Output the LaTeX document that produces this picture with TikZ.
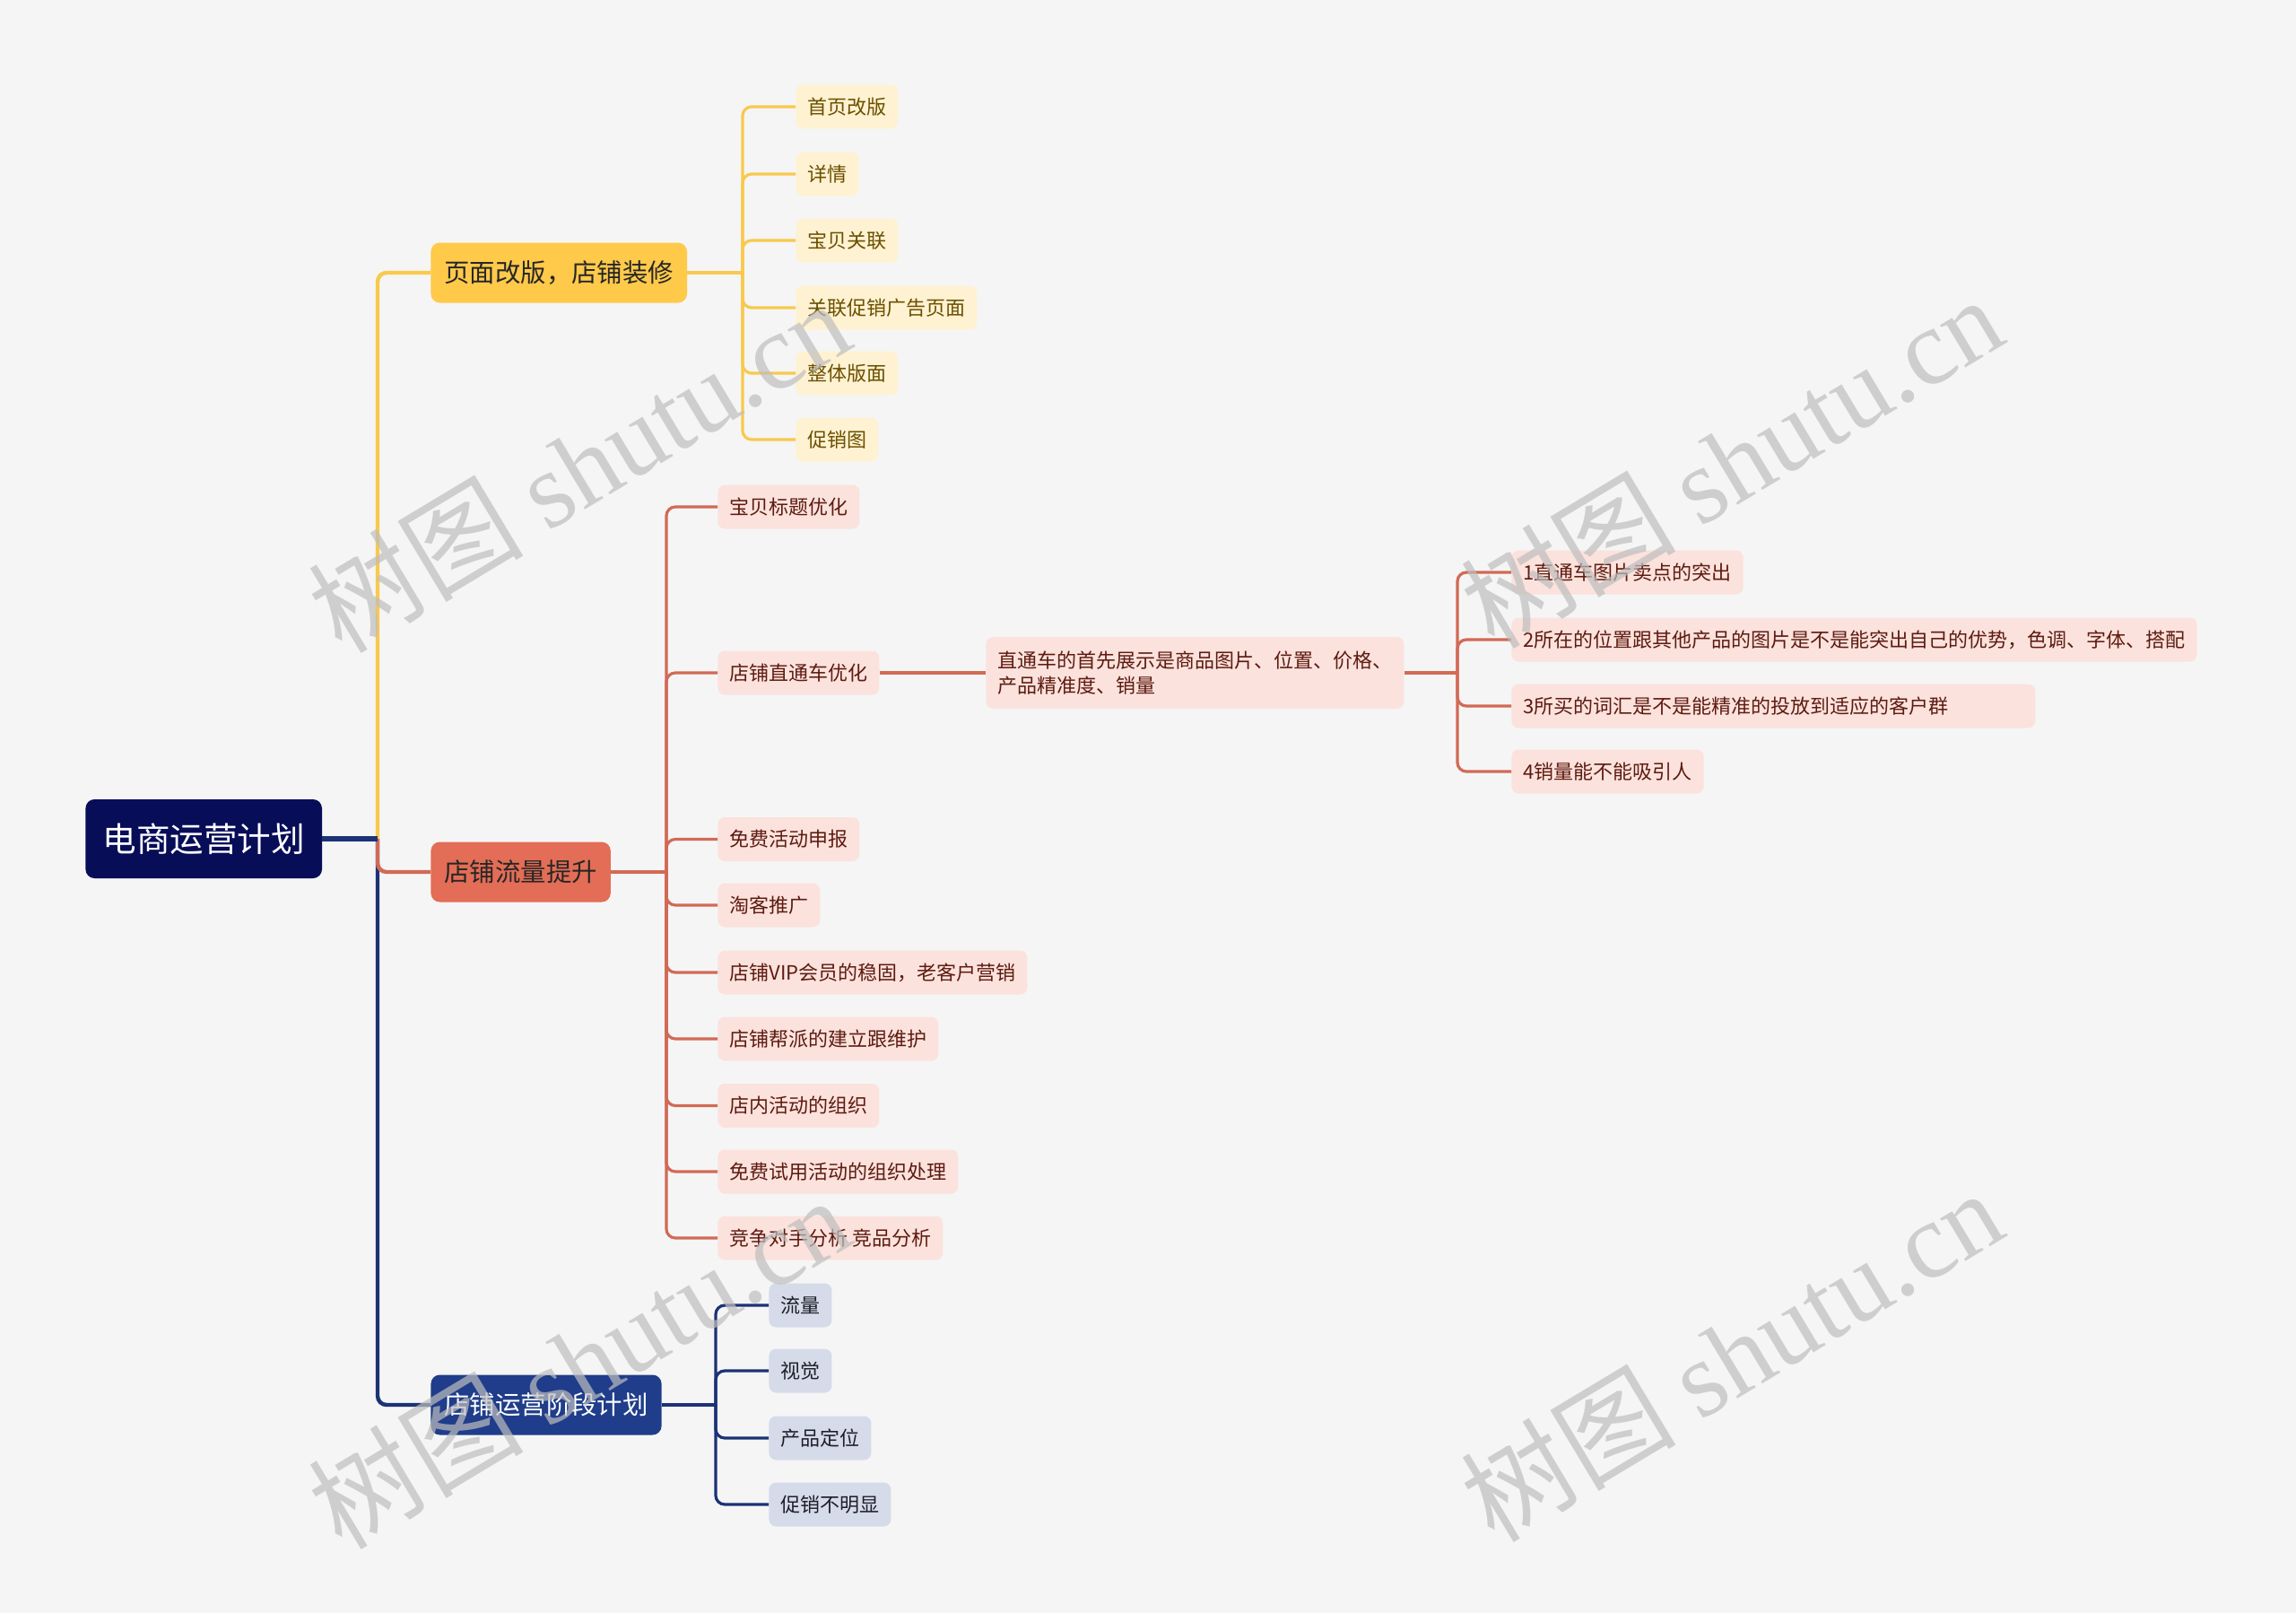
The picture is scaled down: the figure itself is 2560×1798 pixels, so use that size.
\documentclass[tikz,border=0pt]{standalone}
\usepackage{fontspec}
\setmainfont{Noto Sans CJK SC}
\newfontfamily\wmserif{Liberation Serif}
\newfontfamily\wmcjk{Noto Sans CJK SC}
\definecolor{bg}{HTML}{F5F5F5}
\definecolor{rootfill}{HTML}{080D58}
\definecolor{ylw}{HTML}{F8C94C}
\definecolor{ylwfill}{HTML}{FFC94A}
\definecolor{ylwlight}{HTML}{FFF2D2}
\definecolor{ylwtext}{HTML}{6B5000}
\definecolor{redline}{HTML}{D26A55}
\definecolor{redfill}{HTML}{E36D56}
\definecolor{redlight}{HTML}{FBE2DD}
\definecolor{redtext}{HTML}{5E1B10}
\definecolor{bluline}{HTML}{1C3276}
\definecolor{blufill}{HTML}{1F3D8A}
\definecolor{blulight}{HTML}{D6DBEA}
\definecolor{blutext}{HTML}{1E1E28}
\definecolor{wm}{HTML}{BEBEBE}
\tikzset{
  box/.style={anchor=west, rounded corners=4pt, inner ysep=0pt, font=\fontsize{11}{14}\selectfont, minimum height=24.5pt, inner xsep=6.5pt},
  rootbox/.style={anchor=west, rounded corners=5pt, fill=rootfill, text=white, font=\fontsize{18.8}{22}\selectfont, minimum height=44pt, inner xsep=9.5pt, inner ysep=0pt},
  lonebox/.style={anchor=west, rounded corners=5pt, font=\fontsize{14.2}{18}\selectfont, minimum height=33.5pt, inner xsep=7.5pt, inner ysep=0pt},
  ychild/.style={box, fill=ylwlight, text=ylwtext},
  rchild/.style={box, fill=redlight, text=redtext},
  bchild/.style={box, fill=blulight, text=blutext},
  yl/.style={draw=ylw, line width=1.6pt, rounded corners=5pt},
  rl/.style={draw=redline, line width=1.6pt, rounded corners=5pt},
  bl/.style={draw=bluline, line width=1.6pt, rounded corners=5pt},
  wmark/.style={text=wm, opacity=0.7, rotate=31, font=\fontsize{60}{60}\selectfont},
}
\begin{document}
\begin{tikzpicture}[x=0.5pt,y=-0.5pt]
\fill[bg] (0,0) rectangle (2560,1798);
\useasboundingbox (0,0) rectangle (2560,1798);

% root and level 1
\node[rootbox] (root) at (95,935) {电商运营计划};
\node[lonebox, fill=ylwfill, text=black!85] (A) at (480,304) {页面改版，店铺装修};
\node[lonebox, fill=redfill, text=black!85] (B) at (480,972) {店铺流量提升};
\node[lonebox, fill=blufill, text=white] (C) at (480,1566) {店铺运营阶段计划};

\coordinate (j0) at (421,935);
\draw[yl, line width=2.2pt] (j0) |- (A.west);
\draw[bl, line width=2.2pt] (j0) |- (C.west);
\draw[rl, line width=2.2pt] (j0) |- (B.west);
\draw[draw=bluline, line width=2.6pt] (root.east) -- (j0);

% yellow children
\node[ychild] (a1) at (887,119) {首页改版};
\node[ychild] (a2) at (887,194) {详情};
\node[ychild] (a3) at (887,268) {宝贝关联};
\node[ychild] (a4) at (887,343) {关联促销广告页面};
\node[ychild] (a5) at (887,416) {整体版面};
\node[ychild] (a6) at (887,490) {促销图};
\coordinate (ja) at (828,304);
\draw[yl] (A.east) -- (ja);
\foreach \n in {a1,a2,a3,a4,a5,a6} \draw[yl] (ja) |- (\n.west);

% red children
\node[rchild] (b1) at (800,565) {宝贝标题优化};
\node[rchild] (b2) at (800,750) {店铺直通车优化};
\node[rchild] (b3) at (800,935.5) {免费活动申报};
\node[rchild] (b4) at (800,1009) {淘客推广};
\node[rchild] (b5) at (800,1084) {店铺VIP会员的稳固，老客户营销};
\node[rchild] (b6) at (800,1158) {店铺帮派的建立跟维护};
\node[rchild] (b7) at (800,1232.5) {店内活动的组织};
\node[rchild] (b8) at (800,1306) {免费试用活动的组织处理};
\node[rchild] (b9) at (800,1380) {竞争对手分析 竞品分析};
\coordinate (jb) at (743,972);
\draw[rl] (B.east) -- (jb);
\foreach \n in {b1,b2,b3,b4,b5,b6,b7,b8,b9} \draw[rl] (jb) |- (\n.west);

% zhitongche detail
\node[rchild, minimum height=40pt, text width=220pt, align=left] (z) at (1099,750) {直通车的首先展示是商品图片、位置、价格、\\产品精准度、销量};
\draw[rl] (b2.east) -- (z.west);
\node[rchild] (z1) at (1685,638) {1直通车图片卖点的突出};
\node[rchild] (z2) at (1685,713) {2所在的位置跟其他产品的图片是不是能突出自己的优势，色调、字体、搭配};
\node[rchild, text width=279pt, align=left] (z3) at (1685,787) {3所买的词汇是不是能精准的投放到适应的客户群};
\node[rchild] (z4) at (1685,860) {4销量能不能吸引人};
\coordinate (jz) at (1625,750);
\draw[rl] (z.east) -- (jz);
\foreach \n in {z1,z2,z3,z4} \draw[rl] (jz) |- (\n.west);

% blue children
\node[bchild] (c1) at (857,1455) {流量};
\node[bchild] (c2) at (857,1528) {视觉};
\node[bchild] (c3) at (857,1603) {产品定位};
\node[bchild] (c4) at (857,1677) {促销不明显};
\coordinate (jc) at (798,1566);
\draw[bl] (C.east) -- (jc);
\foreach \n in {c1,c2,c3,c4} \draw[bl] (jc) |- (\n.west);

% watermarks
\node[wmark] (w1) at (645,519) {{\wmcjk 树图} {\wmserif shutu.cn}};
\node[wmark] (w2) at (1930,514) {{\wmcjk 树图} {\wmserif shutu.cn}};
\node[wmark] (w3) at (645,1518) {{\wmcjk 树图} {\wmserif shutu.cn}};
\node[wmark] (w4) at (1930,1510) {{\wmcjk 树图} {\wmserif shutu.cn}};
\end{tikzpicture}
\end{document}
